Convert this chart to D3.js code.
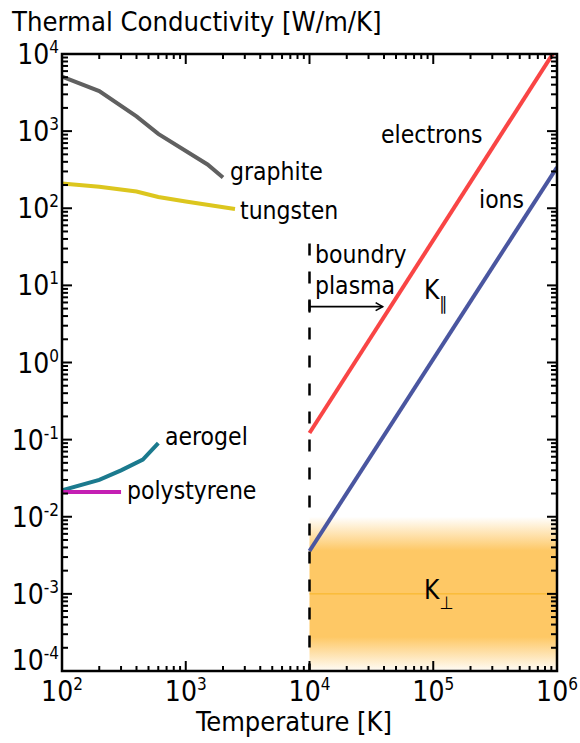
<!DOCTYPE html>
<html><head><meta charset="utf-8">
<script src="https://cdn.jsdelivr.net/npm/d3@7"></script>
<style>body{margin:0;background:#fff}</style>
</head><body>
<script>
const graphite = [[100,5100],[200,3300],[400,1550],[600,920],[1500,370],[2000,250]];
const tungsten = [[100,210],[200,190],[400,165],[600,140],[1000,122],[2500,98]];
const aerogel = [[100,0.022],[200,0.030],[300,0.040],[450,0.055],[600,0.09]];
const polystyrene = [[100,0.021],[300,0.021]];
const electrons = [[1e4,0.122],[1e6,1.22e4]];
const ions = [[1e4,0.0036],[1e6,340]];
const kPerpBand = [1e-4, 1e-2];
const kPerpValue = 1e-3;
const boundaryT = 1e4;
const boundaryTop = 35;
const arrowSpan = [[1e4,5.3],[3.9e4,5.3]];
const xTickExps = [2,3,4,5,6];
const yTickExps = [-4,-3,-2,-1,0,1,2,3,4];

const FONT = "'DejaVu Sans Condensed','DejaVu Sans',sans-serif";
const W=580,H=743;
const svg = d3.select("body").append("svg").attr("width",W).attr("height",H)
  .style("font-family",FONT);
const L=62,R=557,T=54,B=671;
const x = d3.scaleLog().domain([1e2,1e6]).range([L,R]);
const y = d3.scaleLog().domain([1e-4,1e4]).range([B,T]);

const defs = svg.append("defs");
defs.append("clipPath").attr("id","clip").append("rect")
  .attr("x",L).attr("y",T).attr("width",R-L).attr("height",B-T);
const g = defs.append("linearGradient").attr("id","band").attr("x1",0).attr("x2",0).attr("y1",0).attr("y2",1);
[[0,0],[0.22,1],[0.78,1],[1,0.05]].forEach(([o,a])=>g.append("stop").attr("offset",o).attr("stop-color","#fec865").attr("stop-opacity",a));

const plot = svg.append("g").attr("clip-path","url(#clip)");
plot.append("rect").attr("x",x(boundaryT)).attr("width",x(1e6)-x(boundaryT))
  .attr("y",y(kPerpBand[1])).attr("height",y(kPerpBand[0])-y(kPerpBand[1]))
  .attr("fill","url(#band)");
plot.append("line").attr("x1",x(boundaryT)).attr("x2",x(1e6)).attr("y1",y(kPerpValue)).attr("y2",y(kPerpValue))
  .attr("stroke","#f7b524").attr("stroke-width",1);

const line = d3.line().x(d=>x(d[0])).y(d=>y(d[1]));
const series = [[graphite,"#606060"],[tungsten,"#dcc61e"],[aerogel,"#1b7a8e"],[polystyrene,"#c41fb3"],[electrons,"#f94545"],[ions,"#4a56a0"]];
series.forEach(([d,c])=>plot.append("path").datum(d).attr("d",line).attr("fill","none")
  .attr("stroke",c).attr("stroke-width",4));

plot.append("line").attr("x1",x(boundaryT)).attr("x2",x(boundaryT)).attr("y1",y(boundaryTop)).attr("y2",B)
  .attr("stroke","#000").attr("stroke-width",2.5).attr("stroke-dasharray","12,16");

// arrow
const ax1=x(arrowSpan[0][0]), ax2=x(arrowSpan[1][0]), ay=y(arrowSpan[0][1]);
svg.append("line").attr("x1",ax1).attr("x2",ax2).attr("y1",ay).attr("y2",ay).attr("stroke","#000").attr("stroke-width",1.6);
svg.append("path").attr("d",`M${ax2-7},${ay-4}L${ax2},${ay}L${ax2-7},${ay+4}`).attr("fill","none").attr("stroke","#000").attr("stroke-width",1.6);
svg.append("line").attr("x1",ax1).attr("x2",ax1).attr("y1",ay-6).attr("y2",ay+6).attr("stroke","#000").attr("stroke-width",2);

// frame
svg.append("rect").attr("x",L).attr("y",T).attr("width",R-L).attr("height",B-T).attr("fill","none").attr("stroke","#000").attr("stroke-width",2.5);

// ticks
function minors(lo,hi){const a=[];for(let e=lo;e<hi;e++)for(let k=2;k<=9;k++)a.push(k*Math.pow(10,e));return a;}
const xMaj=xTickExps.map(e=>Math.pow(10,e)), yMaj=yTickExps.map(e=>Math.pow(10,e));
const xMin=minors(2,6), yMin=minors(-4,4);
const tk = svg.append("g").attr("stroke","#000").attr("stroke-width",2);
xMaj.forEach(v=>{tk.append("line").attr("x1",x(v)).attr("x2",x(v)).attr("y1",B).attr("y2",B-10);tk.append("line").attr("x1",x(v)).attr("x2",x(v)).attr("y1",T).attr("y2",T+10);});
xMin.forEach(v=>{tk.append("line").attr("x1",x(v)).attr("x2",x(v)).attr("y1",B).attr("y2",B-5);tk.append("line").attr("x1",x(v)).attr("x2",x(v)).attr("y1",T).attr("y2",T+5);});
yMaj.forEach(v=>{tk.append("line").attr("y1",y(v)).attr("y2",y(v)).attr("x1",L).attr("x2",L+10);tk.append("line").attr("y1",y(v)).attr("y2",y(v)).attr("x1",R).attr("x2",R-10);});
yMin.forEach(v=>{tk.append("line").attr("y1",y(v)).attr("y2",y(v)).attr("x1",L).attr("x2",L+6);tk.append("line").attr("y1",y(v)).attr("y2",y(v)).attr("x1",R).attr("x2",R-6);});

function powLabel(sel,e){sel.append("tspan").text("10");sel.append("tspan").attr("font-size",17).attr("dy",-11).text(e);}
xTickExps.forEach(e=>{const t=svg.append("text").attr("x",x(Math.pow(10,e))).attr("y",701).attr("text-anchor","middle").attr("font-size",28);powLabel(t,e);});
yTickExps.forEach((e,i)=>{const yy=y(Math.pow(10,e))+(i===0?-1:10);const t=svg.append("text").attr("x",59).attr("y",yy).attr("text-anchor","end").attr("font-size",28);powLabel(t,e);});

const txt=(s,xx,yy,fs,anchor)=>svg.append("text").attr("x",xx).attr("y",yy).attr("font-size",fs).attr("text-anchor",anchor||"start").text(s);
txt("Thermal Conductivity [W/m/K]",12,31,27.2);
txt("Temperature [K]",294,731,27,"middle");
txt("electrons",381,143,24.5);
txt("ions",479,208,24.5);
txt("graphite",230,180,24.5);
txt("tungsten",240,219,24.5);
txt("aerogel",165,445,24.5);
txt("polystyrene",127,499,24.5);
txt("boundry",315,263,24.5);
txt("plasma",315,294,24.5);
const kp=svg.append("text").attr("x",424).attr("y",299).attr("font-size",26);
kp.append("tspan").text("K");kp.append("tspan").attr("font-size",18).attr("dy",11).text("\u2225");
const kq=svg.append("text").attr("x",424).attr("y",599).attr("font-size",26);
kq.append("tspan").text("K");kq.append("tspan").attr("font-size",18).attr("dy",10).text("\u22A5");
</script>
</body></html>
